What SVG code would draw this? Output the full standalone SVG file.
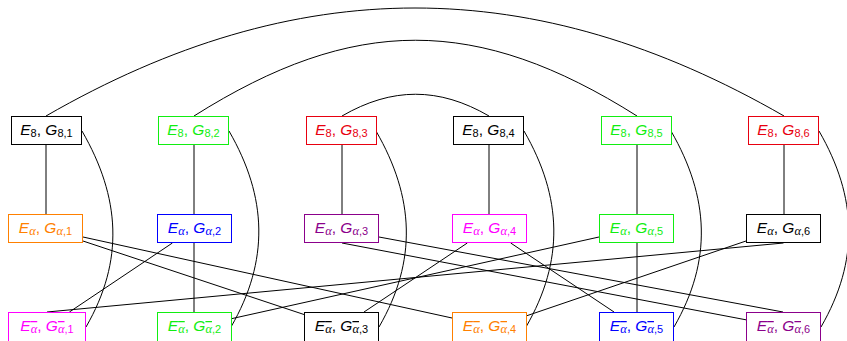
<svg xmlns="http://www.w3.org/2000/svg" width="847" height="341" viewBox="0 0 847 341">
<style>
.bx{fill:#fff;stroke-width:1}
.lbl{font-family:"Liberation Sans",Arial,sans-serif;font-size:15.5px;text-anchor:middle}
.i{font-style:italic}
.s{font-size:11px;font-style:normal}
.a{font-family:"Liberation Serif","DejaVu Serif",serif;font-style:italic;font-size:12.5px}
.ob{text-decoration:overline}
.ln{fill:none;stroke:#000;stroke-width:1}
.k{fill:#000}.kb{stroke:#000}
.g{fill:#11ee11}.gb{stroke:#11ee11}
.r{fill:#e8000f}.rb{stroke:#e8000f}
.o{fill:#ff8000}.ob2{stroke:#ff8000}
.b{fill:#0000ff}.bb{stroke:#0000ff}
.p{fill:#8b008b}.pb{stroke:#8b008b}
.m{fill:#ff00ff}.mb{stroke:#ff00ff}
</style>
<g id="connectors" class="ln">
<path d="M46,116 C296,-28 534,-28 784,116"/>
<path d="M194,116 C354,15 477,15 637,116"/>
<path d="M342,116 C392,87 439,87 489,116"/>
<path d="M46,145 V214 M194,145 V214 M342,145 V214 M489,145 V214 M637,145 V214 M784,145 V214"/>
<path d="M194,243 V312 M637,243 V312"/>
<path d="M82,131 C120.4,197.5 124.4,260.5 86,327"/>
<path d="M229,131 C267.4,197.5 269.4,260.5 231,327"/>
<path d="M376,131 C414.4,197.5 417.4,260.5 379,327"/>
<path d="M524,131 C562.4,197.5 564.4,260.5 526,327"/>
<path d="M671,131 C709.4,197.5 712.4,260.5 674,327"/>
<path d="M819,131 C857.4,197.5 859.4,260.5 821,327"/>
<path d="M83,237 L452,318"/>
<path d="M83,241 L304,314.5"/>
<path d="M172.4,243 L69.4,312"/>
<path d="M379,237 L783,312"/>
<path d="M342,243 L747,320"/>
<path d="M467.3,243 L364,312"/>
<path d="M510.7,243 L614,312"/>
<path d="M599,237 L231,318.8"/>
<path d="M783.5,243 L47,312"/>
<path d="M746,241 L526,316"/>
</g>
<g id="T1"><rect class="bx kb" x="11.5" y="116.5" width="70" height="28"/><text class="lbl k" x="46.5" y="135"><tspan class="i">E</tspan><tspan class="s" dy="2">8</tspan><tspan dy="-2">, </tspan><tspan class="i">G</tspan><tspan class="s" dy="2">8,1</tspan></text></g>
<g id="T2"><rect class="bx gb" x="158.5" y="116.5" width="70" height="28"/><text class="lbl g" x="193.5" y="135"><tspan class="i">E</tspan><tspan class="s" dy="2">8</tspan><tspan dy="-2">, </tspan><tspan class="i">G</tspan><tspan class="s" dy="2">8,2</tspan></text></g>
<g id="T3"><rect class="bx rb" x="306.5" y="116.5" width="70" height="28"/><text class="lbl r" x="341.5" y="135"><tspan class="i">E</tspan><tspan class="s" dy="2">8</tspan><tspan dy="-2">, </tspan><tspan class="i">G</tspan><tspan class="s" dy="2">8,3</tspan></text></g>
<g id="T4"><rect class="bx kb" x="453.5" y="116.5" width="70" height="28"/><text class="lbl k" x="488.5" y="135"><tspan class="i">E</tspan><tspan class="s" dy="2">8</tspan><tspan dy="-2">, </tspan><tspan class="i">G</tspan><tspan class="s" dy="2">8,4</tspan></text></g>
<g id="T5"><rect class="bx gb" x="601.5" y="116.5" width="70" height="28"/><text class="lbl g" x="636.5" y="135"><tspan class="i">E</tspan><tspan class="s" dy="2">8</tspan><tspan dy="-2">, </tspan><tspan class="i">G</tspan><tspan class="s" dy="2">8,5</tspan></text></g>
<g id="T6"><rect class="bx rb" x="748.5" y="116.5" width="70" height="28"/><text class="lbl r" x="783.5" y="135"><tspan class="i">E</tspan><tspan class="s" dy="2">8</tspan><tspan dy="-2">, </tspan><tspan class="i">G</tspan><tspan class="s" dy="2">8,6</tspan></text></g>
<g id="M1"><rect class="bx ob2" x="8.5" y="214.5" width="74" height="28"/><text class="lbl o" x="45.5" y="233"><tspan class="i">E</tspan><tspan class="a" dy="2">α</tspan><tspan dy="-2">, </tspan><tspan class="i">G</tspan><tspan class="a" dy="2">α</tspan><tspan class="s">,1</tspan></text></g>
<g id="M2"><rect class="bx bb" x="157.5" y="214.5" width="74" height="28"/><text class="lbl b" x="194.5" y="233"><tspan class="i">E</tspan><tspan class="a" dy="2">α</tspan><tspan dy="-2">, </tspan><tspan class="i">G</tspan><tspan class="a" dy="2">α</tspan><tspan class="s">,2</tspan></text></g>
<g id="M3"><rect class="bx pb" x="304.5" y="214.5" width="74" height="28"/><text class="lbl p" x="341.5" y="233"><tspan class="i">E</tspan><tspan class="a" dy="2">α</tspan><tspan dy="-2">, </tspan><tspan class="i">G</tspan><tspan class="a" dy="2">α</tspan><tspan class="s">,3</tspan></text></g>
<g id="M4"><rect class="bx mb" x="452.5" y="214.5" width="74" height="28"/><text class="lbl m" x="489.5" y="233"><tspan class="i">E</tspan><tspan class="a" dy="2">α</tspan><tspan dy="-2">, </tspan><tspan class="i">G</tspan><tspan class="a" dy="2">α</tspan><tspan class="s">,4</tspan></text></g>
<g id="M5"><rect class="bx gb" x="599.5" y="214.5" width="74" height="28"/><text class="lbl g" x="636.5" y="233"><tspan class="i">E</tspan><tspan class="a" dy="2">α</tspan><tspan dy="-2">, </tspan><tspan class="i">G</tspan><tspan class="a" dy="2">α</tspan><tspan class="s">,5</tspan></text></g>
<g id="M6"><rect class="bx kb" x="746.5" y="214.5" width="74" height="28"/><text class="lbl k" x="783.5" y="233"><tspan class="i">E</tspan><tspan class="a" dy="2">α</tspan><tspan dy="-2">, </tspan><tspan class="i">G</tspan><tspan class="a" dy="2">α</tspan><tspan class="s">,6</tspan></text></g>
<g id="B1"><rect class="bx mb" x="8.5" y="312.5" width="77" height="30"/><text class="lbl m" x="47" y="331"><tspan class="i">E</tspan><tspan class="a ob" dy="2">α</tspan><tspan dy="-2">, </tspan><tspan class="i">G</tspan><tspan class="a ob" dy="2">α</tspan><tspan class="s">,1</tspan></text></g>
<g id="B2"><rect class="bx gb" x="157.5" y="312.5" width="74" height="30"/><text class="lbl g" x="194.5" y="331"><tspan class="i">E</tspan><tspan class="a ob" dy="2">α</tspan><tspan dy="-2">, </tspan><tspan class="i">G</tspan><tspan class="a ob" dy="2">α</tspan><tspan class="s">,2</tspan></text></g>
<g id="B3"><rect class="bx kb" x="304.5" y="312.5" width="74" height="30"/><text class="lbl k" x="341.5" y="331"><tspan class="i">E</tspan><tspan class="a ob" dy="2">α</tspan><tspan dy="-2">, </tspan><tspan class="i">G</tspan><tspan class="a ob" dy="2">α</tspan><tspan class="s">,3</tspan></text></g>
<g id="B4"><rect class="bx ob2" x="452.5" y="312.5" width="74" height="30"/><text class="lbl o" x="489.5" y="331"><tspan class="i">E</tspan><tspan class="a ob" dy="2">α</tspan><tspan dy="-2">, </tspan><tspan class="i">G</tspan><tspan class="a ob" dy="2">α</tspan><tspan class="s">,4</tspan></text></g>
<g id="B5"><rect class="bx bb" x="599.5" y="312.5" width="74" height="30"/><text class="lbl b" x="636.5" y="331"><tspan class="i">E</tspan><tspan class="a ob" dy="2">α</tspan><tspan dy="-2">, </tspan><tspan class="i">G</tspan><tspan class="a ob" dy="2">α</tspan><tspan class="s">,5</tspan></text></g>
<g id="B6"><rect class="bx pb" x="746.5" y="312.5" width="74" height="30"/><text class="lbl p" x="783.5" y="331"><tspan class="i">E</tspan><tspan class="a ob" dy="2">α</tspan><tspan dy="-2">, </tspan><tspan class="i">G</tspan><tspan class="a ob" dy="2">α</tspan><tspan class="s">,6</tspan></text></g>
</svg>
